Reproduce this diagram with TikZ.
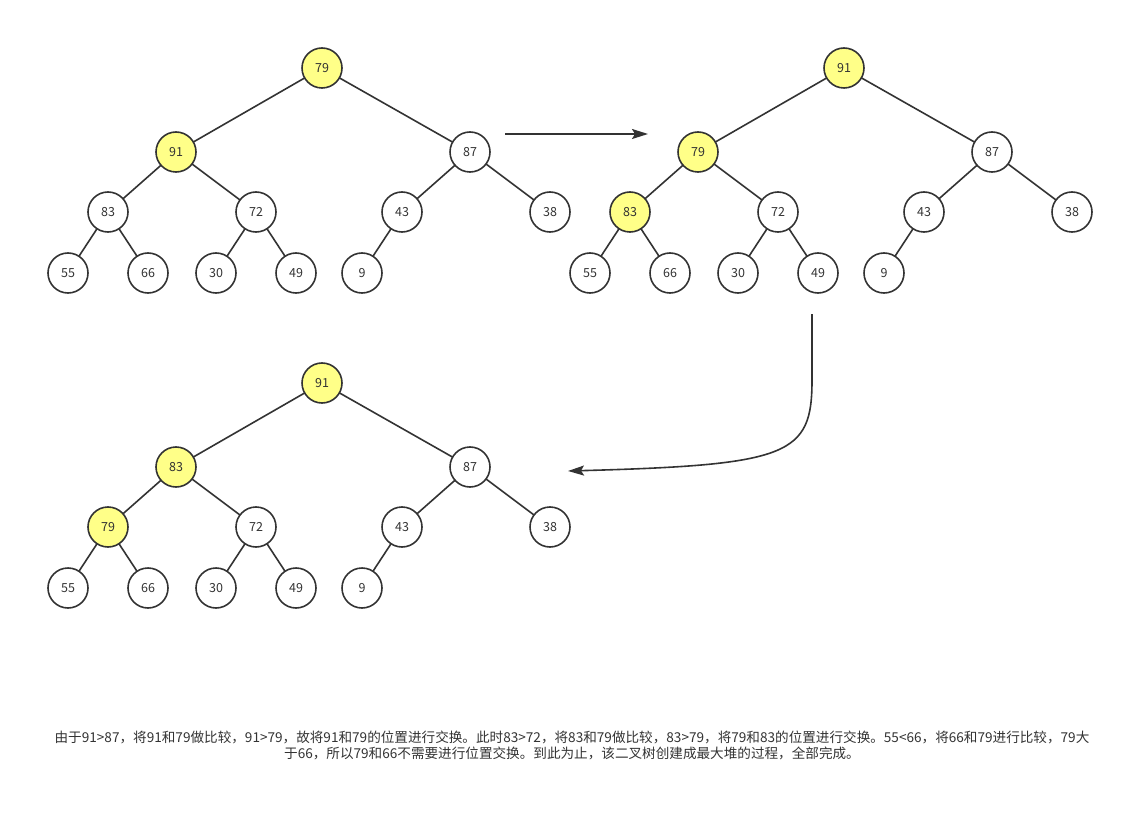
\documentclass[tikz,border=0pt]{standalone}
\usepackage{fontspec}
\setmainfont{Noto Sans CJK SC}
\usepackage{tikz}
\usetikzlibrary{arrows.meta}
\usepackage{tkz-berge}
\definecolor{heapline}{HTML}{333333}
\definecolor{heapmark}{HTML}{FFFF88}

\begin{document}
\begin{tikzpicture}[x=1pt,y=-1pt]
\tikzset{VertexStyle/.style={shape=circle,draw=heapline,line width=1.6pt,
         minimum size=40pt,inner sep=0pt,text=heapline,font=\fontsize{12.5}{14}\selectfont},
         EdgeStyle/.style={draw=heapline,line width=1.6pt},
         Swap/.style={fill=heapmark}}
\useasboundingbox (0,0) rectangle (1124,834);

% first tree
\Vertex[x=322,y=68,L=79,style={Swap}]{A1}
\Vertex[x=176,y=152,L=91,style={Swap}]{A2}
\Vertex[x=470,y=152,L=87]{A3}
\Vertex[x=108,y=212,L=83]{A4}
\Vertex[x=256,y=212,L=72]{A5}
\Vertex[x=402,y=212,L=43]{A6}
\Vertex[x=550,y=212,L=38]{A7}
\Vertex[x=68,y=273,L=55]{A8}
\Vertex[x=148,y=273,L=66]{A9}
\Vertex[x=216,y=273,L=30]{A10}
\Vertex[x=296,y=273,L=49]{A11}
\Vertex[x=362,y=273,L=9]{A12}

% second tree
\Vertex[x=844,y=68,L=91,style={Swap}]{B1}
\Vertex[x=698,y=152,L=79,style={Swap}]{B2}
\Vertex[x=992,y=152,L=87]{B3}
\Vertex[x=630,y=212,L=83,style={Swap}]{B4}
\Vertex[x=778,y=212,L=72]{B5}
\Vertex[x=924,y=212,L=43]{B6}
\Vertex[x=1072,y=212,L=38]{B7}
\Vertex[x=590,y=273,L=55]{B8}
\Vertex[x=670,y=273,L=66]{B9}
\Vertex[x=738,y=273,L=30]{B10}
\Vertex[x=818,y=273,L=49]{B11}
\Vertex[x=884,y=273,L=9]{B12}

% third tree
\Vertex[x=322,y=383,L=91,style={Swap}]{C1}
\Vertex[x=176,y=467,L=83,style={Swap}]{C2}
\Vertex[x=470,y=467,L=87]{C3}
\Vertex[x=108,y=527,L=79,style={Swap}]{C4}
\Vertex[x=256,y=527,L=72]{C5}
\Vertex[x=402,y=527,L=43]{C6}
\Vertex[x=550,y=527,L=38]{C7}
\Vertex[x=68,y=588,L=55]{C8}
\Vertex[x=148,y=588,L=66]{C9}
\Vertex[x=216,y=588,L=30]{C10}
\Vertex[x=296,y=588,L=49]{C11}
\Vertex[x=362,y=588,L=9]{C12}

\foreach \t in {A,B,C}{
  \Edge(\t1)(\t2)
  \Edge(\t1)(\t3)
  \Edge(\t2)(\t4)
  \Edge(\t2)(\t5)
  \Edge(\t3)(\t6)
  \Edge(\t3)(\t7)
  \Edge(\t4)(\t8)
  \Edge(\t4)(\t9)
  \Edge(\t5)(\t10)
  \Edge(\t5)(\t11)
  \Edge(\t6)(\t12)
}

% steps
\coordinate (S1) at (505,134);
\coordinate (S2) at (648,134);
\coordinate (S3) at (812,314);
\coordinate (S4) at (568,471);
\draw[EdgeStyle,-{Stealth[length=16pt,width=10pt,inset=3pt]}] (S1) -- (S2);
\draw[EdgeStyle,-{Stealth[length=16pt,width=10pt,inset=3pt]}] (S3) -- (812,380)
  .. controls (812,455) and (790,465) .. (S4);

\node[text=heapline,align=center,font=\fontsize{13.6}{16}\selectfont] (note) at (572,745)
  {由于91>87，将91和79做比较，91>79，故将91和79的位置进行交换。此时83>72，将83和79做比较，83>79，将79和83的位置进行交换。55<66，将66和79进行比较，79大\\
   于66，所以79和66不需要进行位置交换。到此为止，该二叉树创建成最大堆的过程，全部完成。};
\end{tikzpicture}
\end{document}
